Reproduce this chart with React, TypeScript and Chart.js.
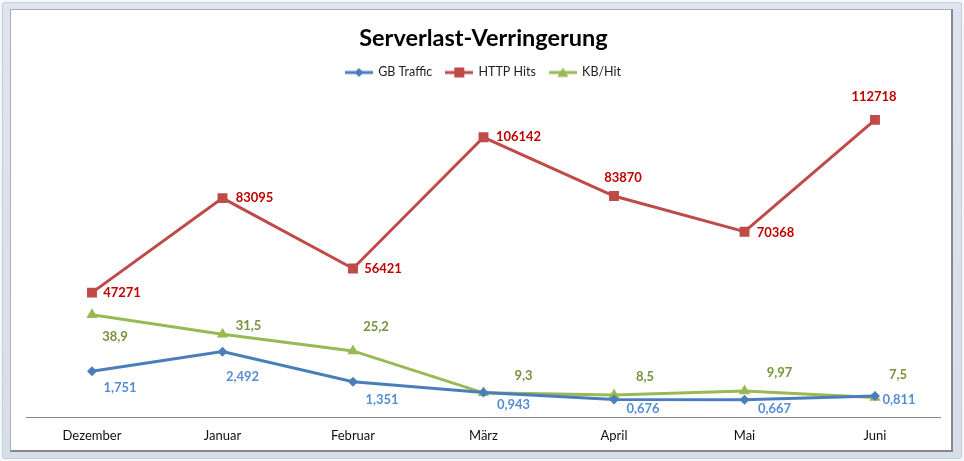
import { useEffect, useRef } from 'react';
import { Chart, registerables } from 'chart.js';

Chart.register(...registerables);

// Monthly figures
const months = ['Dezember', 'Januar', 'Februar', 'März', 'April', 'Mai', 'Juni'];
const gbTraffic = [1.751, 2.492, 1.351, 0.943, 0.676, 0.667, 0.811];
const httpHits = [47271, 83095, 56421, 106142, 83870, 70368, 112718];
const kbPerHit = [38.9, 31.5, 25.2, 9.3, 8.5, 9.97, 7.5];

// Value label placement: offset of each label's centre from its point, in px
const gbLabelOffsets = [[28, 17], [20, 25], [29, 18], [30, 12], [29, 9], [30, 9], [24, 4]];
const httpLabelOffsets = [[30, 0], [32, 0], [30, 0], [35, 0], [9, -18], [31, 1], [-1, -23]];
const kbLabelOffsets = [[23, 22], [26, -8], [23, -24], [40, -17], [31, -18], [35, -18], [23, -23]];

const FONT = 'Lato, "Open Sans", sans-serif';

const BLUE = '#4a7ebb';
const RED = '#be4b48';
const GREEN = '#98b954';

const fmtDecimal = (v: number, digits?: number) =>
  (digits === undefined ? String(v) : v.toFixed(digits)).replace('.', ',');

const seriesLabels = [
  { offsets: gbLabelOffsets, color: '#558ed5', fmt: (v: number) => fmtDecimal(v, 3) },
  { offsets: httpLabelOffsets, color: '#c00000', fmt: (v: number) => String(v) },
  { offsets: kbLabelOffsets, color: '#77933c', fmt: (v: number) => fmtDecimal(v) },
];

// Line-with-marker swatch used in the legend
function legendSwatch(color: string, shape: 'diamond' | 'square' | 'triangle') {
  const c = document.createElement('canvas');
  c.width = 28;
  c.height = 12;
  const ctx = c.getContext('2d')!;
  ctx.strokeStyle = color;
  ctx.lineWidth = 3;
  ctx.beginPath();
  ctx.moveTo(0, 6);
  ctx.lineTo(28, 6);
  ctx.stroke();
  ctx.fillStyle = color;
  ctx.beginPath();
  if (shape === 'diamond') {
    ctx.moveTo(14, 1.5);
    ctx.lineTo(18.5, 6);
    ctx.lineTo(14, 10.5);
    ctx.lineTo(9.5, 6);
  } else if (shape === 'square') {
    ctx.rect(9, 1, 10, 10);
  } else {
    ctx.moveTo(14, 1);
    ctx.lineTo(19.5, 10.5);
    ctx.lineTo(8.5, 10.5);
  }
  ctx.closePath();
  ctx.fill();
  return c;
}

const valueLabelPlugin = {
  id: 'valueLabels',
  afterDatasetsDraw(chart: Chart) {
    const { ctx } = chart;
    ctx.save();
    ctx.font = `bold 13px ${FONT}`;
    ctx.textAlign = 'center';
    ctx.textBaseline = 'middle';
    chart.data.datasets.forEach((ds, i) => {
      const cfg = seriesLabels[i];
      const meta = chart.getDatasetMeta(i);
      meta.data.forEach((pt: any, j: number) => {
        const [dx, dy] = cfg.offsets[j];
        ctx.fillStyle = cfg.color;
        ctx.fillText(cfg.fmt(ds.data[j] as number), pt.x + dx, pt.y + dy);
      });
    });
    ctx.restore();
  },
};

// Extra space below the legend row, before the plot area
const legendGapPlugin = {
  id: 'legendGap',
  beforeInit(chart: any) {
    const legend = chart.legend;
    if (!legend) return;
    const origFit = legend.fit;
    legend.fit = function fit() {
      origFit.call(this);
      this.height += 12;
    };
  },
};

export default function App() {
  const canvasRef = useRef<HTMLCanvasElement | null>(null);

  useEffect(() => {
    const swatches = [
      legendSwatch(BLUE, 'diamond'),
      legendSwatch(RED, 'square'),
      legendSwatch(GREEN, 'triangle'),
    ];
    const chart = new Chart(canvasRef.current!, {
      type: 'line',
      data: {
        labels: months,
        datasets: [
          {
            label: 'GB Traffic',
            data: gbTraffic,
            yAxisID: 'yGb',
            borderColor: BLUE,
            backgroundColor: BLUE,
            borderWidth: 3,
            pointStyle: 'rectRot',
            pointRadius: 5,
            pointBorderWidth: 0,
          },
          {
            label: 'HTTP Hits',
            data: httpHits,
            yAxisID: 'yHits',
            borderColor: RED,
            backgroundColor: RED,
            borderWidth: 3,
            pointStyle: 'rect',
            pointRadius: 7,
            pointBorderWidth: 0,
          },
          {
            label: 'KB/Hit',
            data: kbPerHit,
            yAxisID: 'yKb',
            borderColor: GREEN,
            backgroundColor: GREEN,
            borderWidth: 3,
            pointStyle: 'triangle',
            pointRadius: 6.5,
            pointBorderWidth: 0,
          },
        ],
      },
      options: {
        responsive: false,
        animation: false,
        devicePixelRatio: 1,
        layout: { padding: { left: 26.75, right: 23.75, top: 0, bottom: 6 } },
        plugins: {
          tooltip: { enabled: false },
          title: {
            display: true,
            text: 'Serverlast-Verringerung',
            color: '#000',
            font: { family: FONT, size: 23.5, weight: 'bold' },
            padding: { top: 24, bottom: 0 },
          },
          legend: {
            display: true,
            labels: {
              usePointStyle: true,
              pointStyleWidth: 26,
              color: '#1e1e1e',
              font: { family: FONT, size: 12.5 },
              padding: 14,
              generateLabels: (chart: Chart) =>
                Chart.defaults.plugins.legend.labels
                  .generateLabels(chart)
                  .map((item: any, i: number) => ({ ...item, pointStyle: swatches[i] })),
            },
          },
        },
        scales: {
          x: {
            offset: true,
            grid: { display: false, drawTicks: false },
            border: { display: true, color: '#868686', width: 1 },
            ticks: { color: '#111', font: { family: FONT, size: 13 }, padding: 11 },
          },
          yHits: { display: false, min: 0, max: 120000 },
          yGb: { display: false, min: 0, max: 12 },
          yKb: { display: false, min: 0, max: 120 },
        },
      },
      plugins: [valueLabelPlugin, legendGapPlugin],
    });
    return () => chart.destroy();
  }, []);

  return (
    <div
      style={{
        position: 'fixed',
        left: 0,
        top: 0,
        width: 964,
        height: 461,
        background: '#f4f6f9',
        overflow: 'hidden',
      }}
    >
      <div
        style={{
          position: 'absolute',
          left: 2,
          top: 2,
          width: 958,
          height: 455,
          background: 'linear-gradient(180deg, #dfe5ee, #d6dee9)',
          border: '1px solid #c6ceda',
          borderRadius: 3,
        }}
      />
      <div
        style={{
          position: 'absolute',
          left: 10,
          top: 9,
          width: 940,
          height: 440,
          background: '#fff',
          borderLeft: '1px solid #a9aeb5',
          borderTop: '1px solid #a9aeb5',
          borderRight: '2px solid #85898f',
          borderBottom: '2px solid #85898f',
        }}
      />
      <canvas
        ref={canvasRef}
        width={964}
        height={461}
        style={{ position: 'absolute', left: 0, top: 0 }}
      />
    </div>
  );
}
